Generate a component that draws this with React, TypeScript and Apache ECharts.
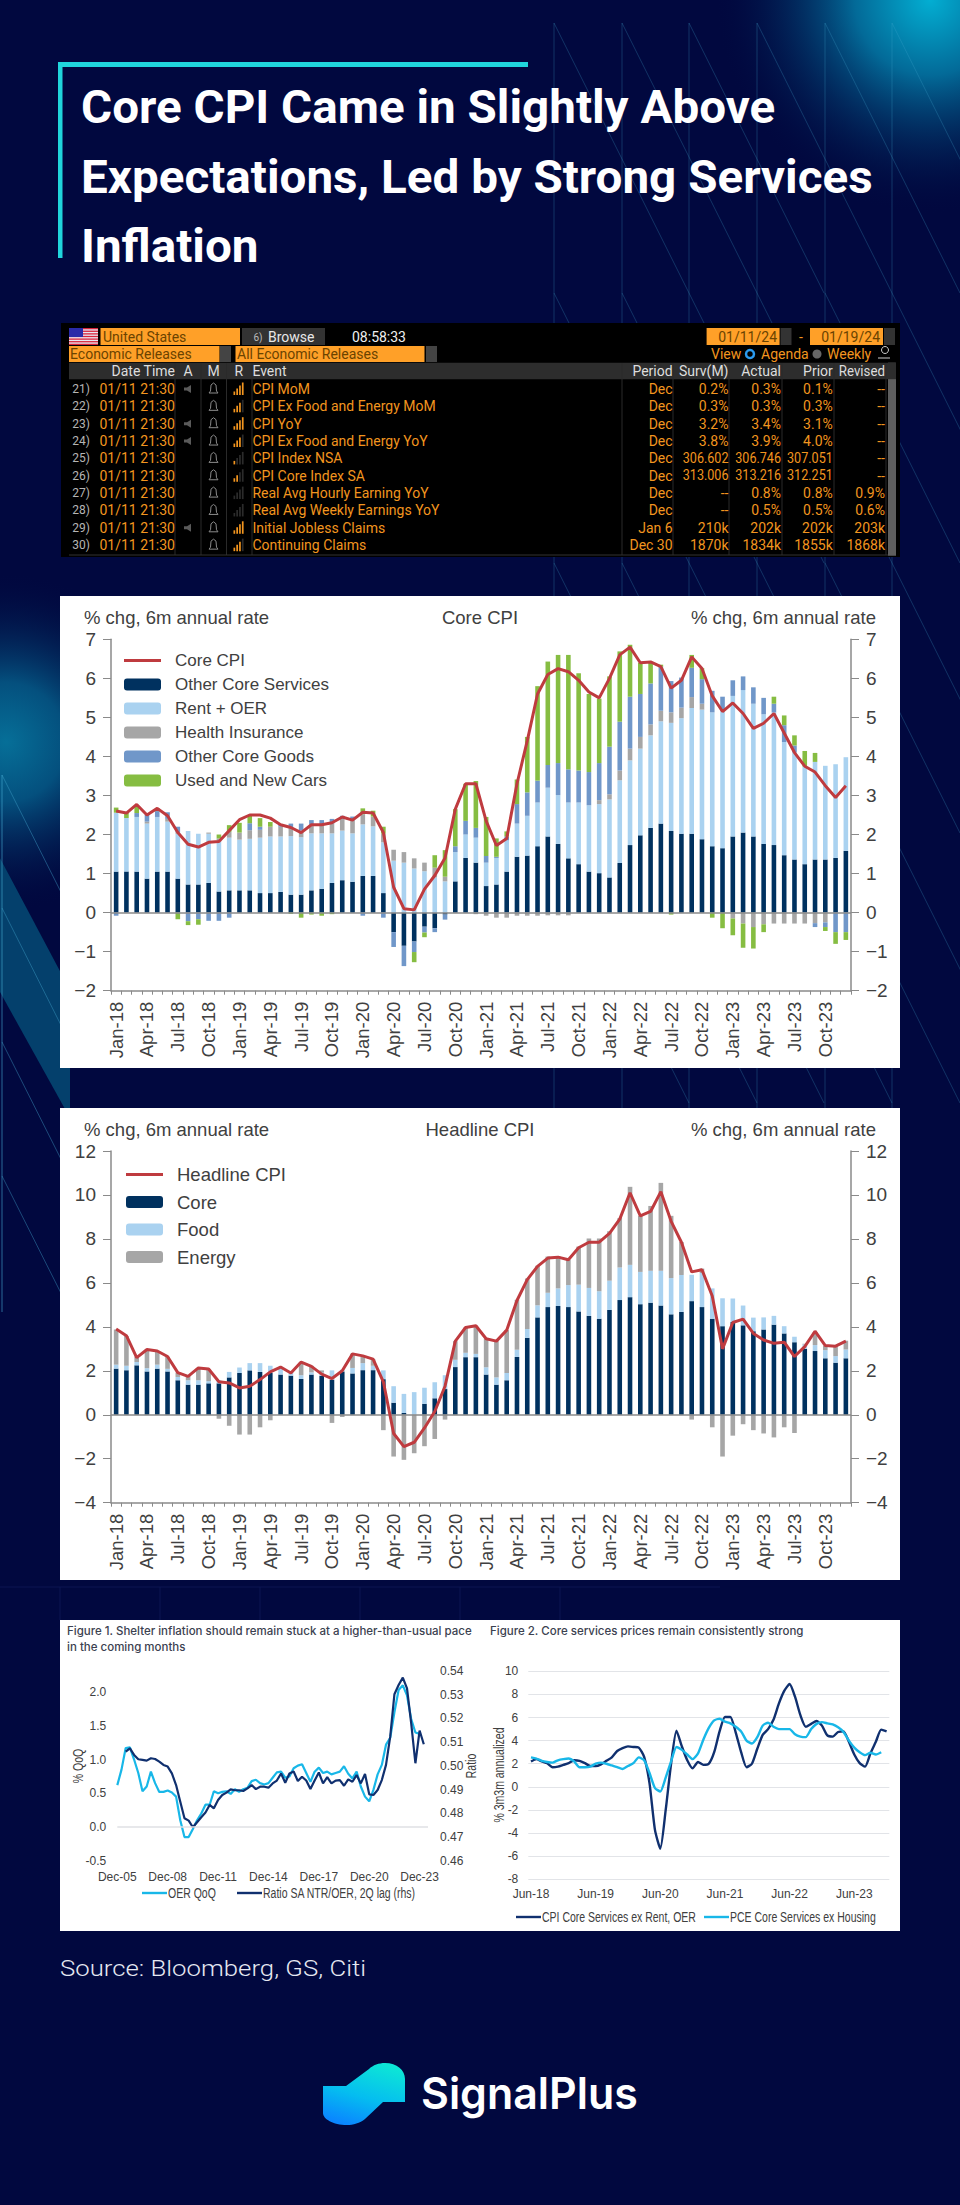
import React, { useEffect, useRef } from "react";
import * as echarts from "echarts";

// ---------- category lists ----------
const YEARS = ["18", "19", "20", "21", "22", "23"];
const MONTHS = ["Jan", "Feb", "Mar", "Apr", "May", "Jun", "Jul", "Aug", "Sep", "Oct", "Nov", "Dec"];
const monthCats = YEARS.flatMap((y) => MONTHS.map((m) => `${m}-${y}`));

// ---------- Core CPI chart ----------
const coreServices = [
  1.05,1.05,1.05,.87,1.05,1.05,.87,.72,.72,.76,.54,.57,
  .57,.57,.5,.5,.53,.46,.46,.57,.61,.76,.83,.79,
  .94,.94,.5,-.5,-.85,-.74,-.36,-.4,-.05,.8,1.4,1.28,
  .68,.72,1.05,1.43,1.46,1.7,1.95,1.76,1.39,1.24,1.05,1.01,
  .9,1.27,1.73,1.98,2.17,2.28,2.09,2.02,2.02,1.88,1.7,1.65,
  1.95,2.05,1.95,1.76,1.73,1.47,1.36,1.24,1.36,1.36,1.4,1.58];
const rentOer = [
  1.51,1.37,1.4,1.41,1.4,1.28,1.15,1.37,1.3,1.26,1.28,1.35,
  1.3,1.32,1.42,1.45,1.42,1.5,1.47,1.46,1.42,1.27,1.27,1.24,
  1.32,1.27,1.3,1.33,1.28,1.13,1.06,.9,.8,.75,.6,.64,
  .6,.68,.8,.85,1.02,1.12,1.25,1.25,1.43,1.58,1.7,1.77,
  2.0,2.12,2.17,2.22,2.37,2.62,2.77,2.96,3.22,3.32,3.43,3.55,
  3.6,3.65,3.4,3.32,3.4,2.9,2.74,2.5,2.5,2.4,2.4,2.4];
const healthIns = [
  0,0,0,.05,0,.07,.03,0,0,.03,.08,.15,
  .18,.22,.2,.25,.25,.2,.17,.22,.2,.25,.3,.33,
  .26,.25,.22,.28,.27,.26,.22,.25,.12,0,0,-.04,
  -.08,-.13,-.13,-.08,-.08,-.08,-.07,-.07,-.07,0,0,.1,
  .13,.25,.3,.3,.28,.27,.27,.27,.28,.15,0,0,
  -.15,-.28,-.37,-.3,-.28,-.28,-.28,-.28,-.27,-.25,0,0];
const coreGoods = [
  -.08,0,.1,.18,.15,.17,.15,-.22,-.17,-.21,-.21,-.13,
  0,.18,.08,0,.05,.12,.18,.12,.14,.12,.08,.1,
  -.08,0,-.13,-.38,-.52,-.27,-.15,-.1,-.13,.15,.35,.25,
  .17,.03,.1,.5,.6,.56,.58,.82,.85,.82,.85,.95,
  1.22,1.25,1.33,1.1,1.05,1.13,.8,.77,.75,.63,.55,.33,
  .4,.35,.42,.42,.22,.43,.18,0,-.1,-.12,-.5,-.5];
const usedNewCars = [
  .13,.13,.2,0,.08,0,-.17,-.1,-.14,0,.1,.17,
  .25,.2,.22,.12,0,-.03,-.13,-.05,-.08,-.04,0,0,
  .15,.15,.18,0,0,-.26,-.12,.32,.68,.95,.95,1.2,
  1.0,.47,.13,.63,1.42,2.42,2.65,2.77,2.93,2.49,2.0,1.65,
  1.8,1.8,1.33,.8,.55,.05,-.05,0,.33,.28,-.13,-.4,
  -.43,-.62,-.55,-.2,.18,.25,.26,.4,.23,-.1,-.3,-.2];
const coreCpiLine = [
  2.6,2.55,2.77,2.5,2.67,2.48,2.05,1.75,1.68,1.8,1.82,2.1,
  2.38,2.5,2.5,2.42,2.25,2.18,2.05,2.25,2.25,2.3,2.45,2.37,
  2.57,2.55,2.05,.65,.1,.07,.6,.95,1.4,2.65,3.3,3.3,
  2.35,1.72,1.9,3.3,4.4,5.6,6.1,6.25,6.17,5.95,5.65,5.5,
  6.0,6.6,6.8,6.4,6.42,6.3,5.75,5.95,6.55,6.25,5.55,5.15,
  5.37,5.1,4.72,4.85,5.1,4.6,4.1,3.75,3.6,3.25,2.95,3.25];

// ---------- Headline CPI chart ----------
const headlineCore = [
  2.1,2.03,2.25,1.97,2.1,1.97,1.57,1.37,1.37,1.43,1.43,1.7,
  1.9,2.02,1.95,1.9,1.83,1.78,1.63,1.83,1.77,1.6,1.97,1.88,
  2.03,2.03,1.62,.55,.08,0,.5,.75,1.17,2.17,2.62,2.62,
  1.83,1.37,1.57,2.63,3.5,4.43,4.9,4.95,4.9,4.7,4.5,4.37,
  4.77,5.22,5.35,5.03,5.1,4.97,4.57,4.68,5.17,4.9,4.37,4.03,
  4.22,4.07,3.8,3.88,4.1,3.7,3.3,3.0,2.9,2.57,2.37,2.57];
const headlineFood = [
  .18,.2,.15,.15,.18,.12,.15,.2,.2,.1,.15,.25,
  .25,.33,.4,.33,.3,.12,.17,.1,.15,.42,.08,.25,
  .32,.2,.4,.75,.87,1.03,.73,.73,.63,.33,.2,.15,
  .33,.33,.33,.33,.4,.55,.65,.8,1.0,1.22,1.27,1.25,
  1.33,1.48,1.47,1.47,1.45,1.58,1.65,1.68,1.2,1.55,1.38,1.27,
  1.07,.9,.62,.55,.4,.33,.25,.2,.27,.37,.3,.4];
const headlineEnergy = [
  1.6,1.35,.25,.85,.6,.55,.2,.2,.55,.55,-.18,-.5,
  -.9,-.9,-.57,-.25,.05,.05,.6,.3,.1,-.37,-.1,.65,
  .3,.3,-.7,-1.9,-2.05,-1.75,-1.43,-1.1,-.22,.85,1.15,1.28,
  1.3,1.65,1.95,2.27,2.3,1.8,1.65,1.47,1.15,1.73,2.25,2.4,
  2.25,2.25,3.55,2.55,2.95,4.0,2.83,1.5,-.22,.2,-.57,-1.9,
  -.95,-.43,-.7,-.85,-1.03,-.57,-.83,.03,.6,.2,.45,.4];
const headlineLine = [
  3.9,3.6,2.6,2.97,2.9,2.65,1.92,1.75,2.13,2.08,1.5,1.45,
  1.22,1.3,1.6,1.95,2.17,1.9,2.4,2.2,1.85,1.65,2.0,2.77,
  2.68,2.53,1.5,-.85,-1.45,-1.25,-.6,.15,1.3,3.35,3.97,4.05,
  3.46,3.35,3.85,5.2,6.15,6.75,7.13,7.17,7.05,7.6,7.85,7.85,
  8.25,8.9,10.1,9.05,9.25,10.15,8.8,7.85,6.5,6.6,5.4,3.0,
  4.2,4.35,3.7,3.4,3.25,3.3,2.65,3.1,3.8,3.15,3.12,3.35];

// ---------- Figure 1 (quarterly) ----------
const QUARTERS = ["Mar", "Jun", "Sep", "Dec"];
const fig1Cats = ["Dec-05", ...["06","07","08","09","10","11","12","13","14","15","16","17","18","19","20","21","22","23","24"].flatMap((y) => QUARTERS.map((q) => `${q}-${y}`))].slice(0, 75);
const oerQoq = [
  .62,.85,1.17,1.18,1.0,.8,.53,.6,.82,.65,.52,.52,.54,.51,.45,.1,-.15,-.15,-.03,.1,
  .2,.33,.33,.53,.5,.52,.53,.49,.56,.52,.56,.58,.68,.7,.65,.63,.65,.73,.81,.82,
  .73,.75,.87,.91,.93,.8,.67,.82,.88,.8,.82,.78,.8,.82,.9,.79,.72,.82,.6,.45,
  .38,.55,.78,.92,1.22,1.32,1.7,2.03,2.1,1.95,1.6,1.4,1.38,null,null];
const ntrOerRatio = [
  null,null,.506,.5074,.5046,.5028,.5025,.5022,.5032,.5029,.5018,.5004,.4997,.4968,.4919,.4849,.4779,.4769,.4741,.4762,
  .4783,.4803,.4835,.4821,.4856,.4877,.4887,.4901,.4897,.4897,.4894,.4905,.4919,.4902,.4912,.4912,.4908,.4926,.4938,.4968,
  .4929,.4968,.4976,.4936,.4954,.4938,.4902,.4938,.4972,.4926,.4952,.4926,.4938,.494,.4916,.4943,.4933,.4961,.4926,.4966,
  .488,.4877,.4898,.494,.5004,.5123,.5302,.5341,.5372,.5327,.5179,.5011,.5149,.5091,null];

// ---------- Figure 2 (monthly, Jun-18 .. Dec-23) ----------
const fig2Cats = monthCats.slice(5);
const cpiCoreSvc = [
  2.2,2.4,2.2,2.05,1.7,1.75,1.9,2.05,2.3,2.25,2.05,1.8,
  1.8,1.95,2.25,2.55,3.1,3.35,3.5,3.45,3.4,2.6,.3,-3.7,
  -5.35,-2.0,2.0,4.85,3.5,2.3,1.6,2.15,1.9,2.0,3.0,4.8,
  6.05,6.05,4.7,3.0,1.7,2.0,3.3,4.5,5.0,5.8,7.2,8.3,
  8.9,7.8,6.2,5.2,5.45,5.7,5.3,4.45,4.35,4.75,4.8,3.9,
  2.8,2.05,1.75,2.9,3.9,4.95,4.8];
const pceCoreSvc = [
  2.55,2.45,2.25,2.15,2.1,2.3,2.4,2.45,2.2,1.7,1.7,1.75,
  2.0,2.1,2.0,1.85,1.7,1.55,1.8,2.05,2.55,2.3,1.2,-.1,
  -.4,.8,2.2,3.45,3.2,2.8,2.4,2.9,4.1,5.1,5.75,5.9,
  5.65,5.5,5.2,4.8,4.0,3.75,4.3,5.3,5.55,5.2,5.0,5.0,
  5.0,4.55,4.35,4.3,5.0,5.45,5.6,5.5,5.4,5.15,4.75,4.0,
  3.4,3.0,2.75,2.95,2.8,3.0,null];

// ---------- Bloomberg table ----------
const rowNumbers = ["21)", "22)", "23)", "24)", "25)", "26)", "27)", "28)", "29)", "30)"];
const eventNames = ["CPI MoM", "CPI Ex Food and Energy MoM", "CPI YoY", "CPI Ex Food and Energy YoY", "CPI Index NSA", "CPI Core Index SA", "Real Avg Hourly Earning YoY", "Real Avg Weekly Earnings YoY", "Initial Jobless Claims", "Continuing Claims"];
const periods = ["Dec", "Dec", "Dec", "Dec", "Dec", "Dec", "Dec", "Dec", "Jan 6", "Dec 30"];
const surveys = ["0.2%", "0.3%", "3.2%", "3.8%", "306.602", "313.006", "--", "--", "210k", "1870k"];
const actuals = ["0.3%", "0.3%", "3.4%", "3.9%", "306.746", "313.216", "0.8%", "0.5%", "202k", "1834k"];
const priors = ["0.1%", "0.3%", "3.1%", "4.0%", "307.051", "312.251", "0.8%", "0.5%", "202k", "1855k"];
const reviseds = ["--", "--", "--", "--", "--", "--", "0.9%", "0.6%", "203k", "1868k"];
const importance = [4, 3, 4, 3, 1, 2, 0, 0, 4, 3];
const hasAudio = [1, 0, 1, 1, 0, 0, 0, 0, 1, 0];

const NAVY = "#01083f";
const ARIAL = '"Liberation Sans", Arial, sans-serif';
const ORANGE = "#f2951f";
const TXT = "#404040";
const FIGL = "#18b7e8";
const FIGD = "#10306f";

echarts.graphic.registerShape(
  "spLogo",
  echarts.graphic.extendPath(
    "M46,6 C50,2 56,0 62,0 C74,0 82,7 82,16 L82,39 L60,39 L42,56 C37,60 30,62 24,62 C10,62 0,56 0,50 L0,23 L23,23 Z",
    {}
  )
);

function txt(text: string, x: number, y: number, size: number, fill: string, opt: any = {}) {
  const { align = "left", family = ARIAL, weight = "normal", scaleX = 1, rotation = 0, z = 5 } = opt;
  return {
    type: "text", x, y, scaleX, rotation, z, silent: true,
    style: { text, x: 0, y: 0, fill, fontSize: size, fontFamily: family, fontWeight: weight, align, verticalAlign: "middle" },
  };
}
const rect = (x: number, y: number, w: number, h: number, fill: any, z = 1) => ({ type: "rect", z, silent: true, shape: { x, y, width: w, height: h }, style: { fill } });
const seg = (x1: number, y1: number, x2: number, y2: number, stroke: string, lineWidth = 1, z = 0) => ({ type: "line", z, silent: true, shape: { x1, y1, x2, y2 }, style: { stroke, lineWidth } });

function backdrop(): any[] {
  const els: any[] = [];
  els.push(rect(0, 0, 960, 2205, NAVY, 0));
  const glow = (cx: number, cy: number, r: number, c0: string, c1: string) => ({
    type: "circle", z: 0, silent: true, shape: { cx, cy, r },
    style: { fill: new echarts.graphic.RadialGradient(0.5, 0.5, 0.5, [
      { offset: 0, color: c0 }, { offset: 0.35, color: c1 }, { offset: 1, color: "rgba(1,8,63,0)" },
    ]) },
  });
  els.push(glow(930, 0, 215, "#03aed2", "#036a98"));
  els.push(glow(6, 742, 170, "#066f98", "#04507e"));
  els.push({ type: "polygon", z: 0, silent: true, shape: { points: [[0, 858], [70, 990], [70, 1120], [0, 1120]] }, style: { fill: NAVY } });
  els.push({ type: "polygon", z: 0, silent: true, shape: { points: [[0, 858], [70, 990], [70, 1118], [0, 992]] }, style: { fill: "#04406c" } });
  const stroke = "rgba(70,170,210,0.27)";
  [554, 622, 689, 757, 825, 892].forEach((x) => {
    els.push(seg(x, 23, x, 1110, stroke));
    [23, 293, 563, 833].forEach((y) => els.push(seg(x, y, x + 135, y + 270, stroke)));
  });
  els.push(seg(2, 775, 2, 1312, "rgba(70,170,210,0.4)", 1.5));
  [775, 908, 1042, 1176].forEach((y) => els.push(seg(2, y, 70, y + 135, "rgba(70,170,210,0.4)")));
  els.push(seg(0, 1587, 720, 1587, "#0d1552"));
  [60, 160, 260, 360, 460, 560].forEach((x) => els.push(seg(x, 1587, x, 1620, "#0d1552")));
  return els;
}

function titleBlock(): any[] {
  const family = "Roboto, sans-serif";
  const o = { family, weight: 700, scaleX: 1.035 };
  return [
    rect(58, 62, 470, 5, "#20d5dc", 2),
    rect(58, 62, 4.5, 196, "#20d5dc", 2),
    txt("Core CPI Came in Slightly Above", 81, 107, 46, "#ffffff", o),
    txt("Expectations, Led by Strong Services", 81, 177, 46, "#ffffff", o),
    txt("Inflation", 81, 246, 46, "#ffffff", o),
  ];
}

function bloomberg(): any[] {
  const els: any[] = [];
  const family = "Roboto, sans-serif";
  const F = 14;
  els.push(rect(61, 323, 839, 234, "#000000", 1));
  els.push(rect(69, 328, 29, 17, "#e8e8f4", 2));
  for (let i = 0; i < 7; i++) els.push(rect(69, 328 + (i * 17) / 6.5, 29, 1.3, "#d8243a", 2));
  els.push(rect(69, 328, 14, 9, "#2a2aa8", 3));
  els.push(rect(100.5, 328, 139.5, 17, "#ffa028", 2));
  els.push(txt("United States", 103, 337, F, "#6b4300", { family, z: 4 }));
  els.push(rect(242, 328, 83, 17, "#333333", 2));
  els.push(txt("Browse", 268, 337, F, "#e8e8e8", { family, z: 4 }));
  els.push(txt("6)", 258, 337, 10, "#bbbbbb", { family, z: 4, align: "center" }));
  els.push(txt("08:58:33", 379, 337, F, "#f0f0f0", { family, align: "center", z: 4 }));
  els.push(rect(706.6, 328, 73, 17, "#ffa028", 2));
  els.push(txt("01/11/24", 777, 337, F, "#6b4300", { family, align: "right", z: 4 }));
  els.push(rect(780.5, 328, 11, 17, "#333333", 2));
  els.push(txt("-", 801, 337, F, ORANGE, { family, align: "center", z: 4 }));
  els.push(rect(810, 328, 73, 17, "#ffa028", 2));
  els.push(txt("01/19/24", 880, 337, F, "#6b4300", { family, align: "right", z: 4 }));
  els.push(rect(884, 328, 11, 17, "#333333", 2));
  els.push(rect(69, 346, 150.5, 16, "#ffa028", 2));
  els.push(txt("Economic Releases", 70, 354, F, "#6b4300", { family, z: 4 }));
  els.push(rect(220, 346, 11, 16, "#444444", 2));
  els.push(rect(235.5, 346, 189, 16, "#ffa028", 2));
  els.push(txt("All Economic Releases", 237, 354, F, "#6b4300", { family, z: 4 }));
  els.push(rect(426, 346, 11, 16, "#444444", 2));
  els.push(txt("View", 711, 354, F, ORANGE, { family, z: 4 }));
  els.push({ type: "circle", z: 4, silent: true, shape: { cx: 750, cy: 354, r: 4 }, style: { fill: "#000", stroke: "#2b9bf0", lineWidth: 2.5 } });
  els.push(txt("Agenda", 761, 354, F, ORANGE, { family, z: 4 }));
  els.push({ type: "circle", z: 4, silent: true, shape: { cx: 817, cy: 354, r: 4.5 }, style: { fill: "#666666" } });
  els.push(txt("Weekly", 827, 354, F, ORANGE, { family, z: 4 }));
  els.push({ type: "circle", z: 4, silent: true, shape: { cx: 885, cy: 350, r: 3.5 }, style: { fill: "none", stroke: "#cccccc", lineWidth: 1 } });
  els.push(seg(878, 358, 890, 358, "#cccccc", 1, 4));
  els.push(rect(69, 362.7, 826, 16.5, "#2d2d2d", 2));
  const HY = 371;
  const head = "#dddddd";
  els.push(txt("Date Time", 175, HY, F, head, { family, align: "right", z: 4 }));
  els.push(txt("A", 188, HY, F, head, { family, align: "center", z: 4 }));
  els.push(txt("M", 213.5, HY, F, head, { family, align: "center", z: 4 }));
  els.push(txt("R", 238.7, HY, F, head, { family, align: "center", z: 4 }));
  els.push(txt("Event", 252.4, HY, F, head, { family, z: 4 }));
  els.push(txt("Period", 672.6, HY, F, head, { family, align: "right", z: 4 }));
  els.push(txt("Surv(M)", 728.5, HY, F, head, { family, align: "right", z: 4 }));
  els.push(txt("Actual", 781, HY, F, head, { family, align: "right", z: 4 }));
  els.push(txt("Prior", 832.8, HY, F, head, { family, align: "right", z: 4 }));
  els.push(txt("Revised", 885, HY, F, head, { family, align: "right", z: 4, scaleX: 0.95 }));
  els.push(rect(888, 362.7, 8, 193, "#5e5e5e", 2));
  els.push(rect(888, 362.7, 8, 16.5, "#2d2d2d", 3));
  [175, 201, 226.5, 252, 622, 673, 729, 782, 834, 886].forEach((x) => els.push(seg(x, 363, x, 555, "#2a2a2a", 1, 2)));
  els.push(seg(69, 555, 888, 555, "#333333", 1, 2));
  rowNumbers.forEach((num, i) => {
    const y = 389 + i * 17.35;
    els.push(txt(num, 90, y, 12, "#b5b5b5", { family, align: "right", z: 4 }));
    els.push(txt("01/11 21:30", 175, y, F, ORANGE, { family, align: "right", z: 4 }));
    if (hasAudio[i]) {
      els.push({ type: "polygon", z: 4, silent: true, shape: { points: [[184, y - 1.5], [187, y - 1.5], [191, y - 4], [191, y + 4], [187, y + 1.5], [184, y + 1.5]] }, style: { fill: "#5a5a5a" } });
    }
    els.push({ type: "polygon", z: 4, silent: true, shape: { points: [[213.5, y - 6], [216, y - 4], [216.5, y + 2], [218, y + 4], [209, y + 4], [210.5, y + 2], [211, y - 4]] }, style: { fill: "none", stroke: "#8a8a8a", lineWidth: 1 } });
    for (let b = 0; b < 4; b++) {
      const h = 3.5 + b * 3;
      els.push(rect(233.5 + b * 2.8, y + 6 - h, 1.7, h, b < importance[i] ? ORANGE : "#2b2b2b", 4));
    }
    els.push(txt(eventNames[i], 252.4, y, F, ORANGE, { family, z: 4 }));
    els.push(txt(periods[i], 672.6, y, F, ORANGE, { family, align: "right", z: 4 }));
    els.push(txt(surveys[i], 728.5, y, F, ORANGE, { family, align: "right", z: 4, scaleX: surveys[i].length > 6 ? 0.9 : 1 }));
    els.push(txt(actuals[i], 781, y, F, ORANGE, { family, align: "right", z: 4, scaleX: actuals[i].length > 6 ? 0.9 : 1 }));
    els.push(txt(priors[i], 832.8, y, F, ORANGE, { family, align: "right", z: 4, scaleX: priors[i].length > 6 ? 0.9 : 1 }));
    els.push(txt(reviseds[i], 885, y, F, ORANGE, { family, align: "right", z: 4 }));
  });
  return els;
}

function panels(): any[] {
  const FIGFONT = "Inter, sans-serif";
  const FIGC = "#3b4150";
  const nar = { scaleX: 0.75, z: 5 };
  return [
    rect(60, 596, 840, 472, "#ffffff", 1),
    rect(60, 1108, 840, 472, "#ffffff", 1),
    rect(60, 1620, 840, 311, "#ffffff", 1),
    txt("% chg, 6m annual rate", 84, 617, 18.5, TXT),
    txt("Core CPI", 480, 617, 18.5, TXT, { align: "center" }),
    txt("% chg, 6m annual rate", 876, 617, 18.5, TXT, { align: "right" }),
    txt("% chg, 6m annual rate", 84, 1129, 18.5, TXT),
    txt("Headline CPI", 480, 1129, 18.5, TXT, { align: "center" }),
    txt("% chg, 6m annual rate", 876, 1129, 18.5, TXT, { align: "right" }),
    txt("Figure 1. Shelter inflation should remain stuck at a higher-than-usual pace", 67, 1631, 11.5, FIGC, { family: FIGFONT, weight: 500 }),
    txt("in the coming months", 67, 1647, 11.5, FIGC, { family: FIGFONT, weight: 500 }),
    txt("Figure 2. Core services prices remain consistently strong", 490, 1631, 11.5, FIGC, { family: FIGFONT, weight: 500 }),
    txt("% QoQ", 78, 1766, 14, TXT, { ...nar, align: "center", rotation: Math.PI / 2 }),
    txt("Ratio", 471, 1766, 14, TXT, { ...nar, align: "center", rotation: Math.PI / 2 }),
    txt("% 3m3m annualized", 499, 1775, 14, TXT, { ...nar, align: "center", rotation: Math.PI / 2 }),
    seg(142, 1893, 167, 1893, FIGL, 2.4, 5),
    txt("OER QoQ", 168, 1893, 14, TXT, nar),
    seg(237, 1893, 262, 1893, FIGD, 2.4, 5),
    txt("Ratio SA NTR/OER, 2Q lag (rhs)", 263, 1893, 14, TXT, nar),
    seg(516, 1917, 541, 1917, FIGD, 2.4, 5),
    txt("CPI Core Services ex Rent, OER", 542, 1917, 14, TXT, nar),
    seg(704, 1917, 729, 1917, FIGL, 2.4, 5),
    txt("PCE Core Services ex Housing", 730, 1917, 14, TXT, nar),
  ];
}

function footer(): any[] {
  const logoFill = new echarts.graphic.LinearGradient(0.7, 0, 0.3, 1, [
    { offset: 0, color: "#0de6d6" }, { offset: 0.55, color: "#05bdf0" }, { offset: 1, color: "#0a86ff" },
  ]);
  return [
    txt("Source: Bloomberg, GS, Citi", 60, 1968, 23, "#e6e8f2", { family: "Roboto, sans-serif", weight: 300, scaleX: 1.12 }),
    { type: "spLogo", x: 323, y: 2063, z: 3, silent: true, style: { fill: logoFill } },
    txt("SignalPlus", 421, 2093, 44, "#ffffff", { family: "Inter, sans-serif", weight: 600, scaleX: 0.975 }),
  ];
}

const minusFmt = (v: number) => (v < 0 ? `\u2212${Math.abs(v)}` : `${v}`);

function stackedChart(gridIndex: number, top: number, bottom: number, min: number, max: number, interval: number) {
  const xAxis = {
    type: "category", gridIndex, data: monthCats, position: "bottom", z: 3,
    axisLine: { onZero: false, lineStyle: { color: "#8a8a8a", width: 1.5 } },
    axisTick: { show: true, interval: 0, length: 4, lineStyle: { color: "#8a8a8a" } },
    axisLabel: { interval: 2, rotate: 90, color: TXT, fontFamily: ARIAL, fontSize: 18.5, margin: 11, padding: [0, 0, 6, 0] },
    splitLine: { show: false },
  };
  const y = (position: string) => ({
    type: "value", gridIndex, position, min, max, interval, z: 3,
    axisLine: { show: true, lineStyle: { color: "#8a8a8a", width: 1.5 } },
    axisTick: { show: true, length: 8, lineStyle: { color: "#8a8a8a" } },
    axisLabel: { color: TXT, fontFamily: ARIAL, fontSize: 19, margin: 15, formatter: minusFmt },
    splitLine: { show: false },
  });
  return { grid: { left: 111, width: 740, top, height: bottom - top }, xAxis, yAxes: [y("left"), y("right")] };
}

function barSeries(name: string, data: number[], color: string, xAxisIndex: number, yAxisIndex: number, stack: string) {
  return { type: "bar", name, data, stack, xAxisIndex, yAxisIndex, barWidth: 4.6, itemStyle: { color }, z: 2 };
}
function zeroLine(color: string) {
  return { silent: true, symbol: ["none", "none"], label: { show: false }, lineStyle: { color, width: 1.5, type: "solid" }, data: [{ yAxis: 0 }] };
}
const LINE_ICON = "path://M0,0H37V0.01H0Z M0,4.5H37V7.5H0Z M0,11.99H37V12H0Z";

function buildOption(): any {
  const c1 = stackedChart(0, 639.3, 990.7, -2, 7, 1);
  const c2 = stackedChart(1, 1151, 1502.7, -4, 12, 2);
  const DARK = "#00315f", LIGHT = "#aad2f0", GREY = "#a6a6a6", GOODS = "#7097c9", CARS = "#86bd42", RED = "#bf3b3f";
  const figLabel = { color: TXT, fontFamily: ARIAL, fontSize: 12 };

  const grid = [
    c1.grid, c2.grid,
    { left: 117.3, width: 310.7, top: 1671, height: 189.7 },
    { left: 528.3, width: 361, top: 1671.3, height: 208 },
  ];
  const figAxis = { z: 3, axisLine: { show: false }, axisTick: { show: false } };
  const xAxis = [
    c1.xAxis, c2.xAxis,
    { type: "category", gridIndex: 2, data: fig1Cats, boundaryGap: false, ...figAxis, splitLine: { show: false },
      axisLabel: { ...figLabel, interval: 11, margin: 10 } },
    { type: "category", gridIndex: 3, data: fig2Cats, ...figAxis, splitLine: { show: false },
      axisLabel: { ...figLabel, interval: 11, margin: 9 } },
  ];
  const yAxis = [
    ...c1.yAxes, ...c2.yAxes,
    { type: "value", gridIndex: 2, position: "left", min: -0.5, max: 2.3125, interval: 0.5, ...figAxis, splitLine: { show: false },
      axisLabel: { ...figLabel, margin: 11, showMaxLabel: false, formatter: (v: number) => v.toFixed(1) } },
    { type: "value", gridIndex: 2, position: "right", min: 0.46, max: 0.54, interval: 0.01, ...figAxis, splitLine: { show: false },
      axisLabel: { ...figLabel, margin: 12, formatter: (v: number) => v.toFixed(2) } },
    { type: "value", gridIndex: 3, position: "left", min: -8, max: 10, interval: 2, ...figAxis,
      splitLine: { show: true, lineStyle: { color: "#e2e4e8", width: 1.2 } }, axisLabel: { ...figLabel, margin: 10 } },
  ];
  const series: any[] = [
    barSeries("Other Core Services", coreServices, DARK, 0, 0, "core"),
    barSeries("Rent + OER", rentOer, LIGHT, 0, 0, "core"),
    barSeries("Health Insurance", healthIns, GREY, 0, 0, "core"),
    barSeries("Other Core Goods", coreGoods, GOODS, 0, 0, "core"),
    barSeries("Used and New Cars", usedNewCars, CARS, 0, 0, "core"),
    { type: "line", name: "Core CPI", data: coreCpiLine, xAxisIndex: 0, yAxisIndex: 0, symbol: "none", lineStyle: { color: RED, width: 3 }, itemStyle: { color: RED }, z: 5, markLine: zeroLine("#8a8a8a") },
    barSeries("Core", headlineCore, DARK, 1, 2, "head"),
    barSeries("Food", headlineFood, LIGHT, 1, 2, "head"),
    barSeries("Energy", headlineEnergy, GREY, 1, 2, "head"),
    { type: "line", name: "Headline CPI", data: headlineLine, xAxisIndex: 1, yAxisIndex: 2, symbol: "none", lineStyle: { color: RED, width: 3 }, itemStyle: { color: RED }, z: 5, markLine: zeroLine("#8a8a8a") },
    { type: "line", name: "OER QoQ", data: oerQoq, xAxisIndex: 2, yAxisIndex: 4, symbol: "none", lineStyle: { color: FIGL, width: 2.2 }, itemStyle: { color: FIGL }, z: 3, markLine: zeroLine("#dfe1e5") },
    { type: "line", name: "Ratio SA NTR/OER, 2Q lag (rhs)", data: ntrOerRatio, xAxisIndex: 2, yAxisIndex: 5, symbol: "none", lineStyle: { color: FIGD, width: 2.2 }, itemStyle: { color: FIGD }, z: 4 },
    { type: "line", name: "CPI Core Services ex Rent, OER", data: cpiCoreSvc, xAxisIndex: 3, yAxisIndex: 6, symbol: "none", smooth: 0.2, lineStyle: { color: FIGD, width: 2.4 }, itemStyle: { color: FIGD }, z: 3 },
    { type: "line", name: "PCE Core Services ex Housing", data: pceCoreSvc, xAxisIndex: 3, yAxisIndex: 6, symbol: "none", smooth: 0.2, lineStyle: { color: FIGL, width: 2.4 }, itemStyle: { color: FIGL }, z: 4 },
  ];
  const vLegend = (data: any[], left: number, top: number, fontSize: number, itemGap: number) => ({
    orient: "vertical", left, top, data, padding: 0, itemWidth: 37, itemHeight: 12, itemGap, selectedMode: false, z: 6,
    textStyle: { color: TXT, fontFamily: ARIAL, fontSize, padding: [0, 0, 0, 9] },
  });
  const legend = [
    vLegend([{ name: "Core CPI", icon: LINE_ICON }, "Other Core Services", "Rent + OER", "Health Insurance", "Other Core Goods", "Used and New Cars"], 124, 652, 17, 7),
    vLegend([{ name: "Headline CPI", icon: LINE_ICON }, "Core", "Food", "Energy"], 126, 1165, 18.5, 8.5),
  ];
  return {
    animation: false,
    backgroundColor: NAVY,
    grid, xAxis, yAxis, series, legend,
    graphic: { elements: [...backdrop(), ...titleBlock(), ...bloomberg(), ...panels(), ...footer()] },
  };
}

export default function App() {
  const ref = useRef<HTMLDivElement>(null);
  useEffect(() => {
    document.body.style.margin = "0";
    document.body.style.background = NAVY;
    const chart = echarts.init(ref.current!, undefined, { renderer: "svg" });
    chart.setOption(buildOption());
    return () => chart.dispose();
  }, []);
  return <div ref={ref} style={{ position: "absolute", left: 0, top: 0, width: 960, height: 2205, overflow: "hidden" }} />;
}
